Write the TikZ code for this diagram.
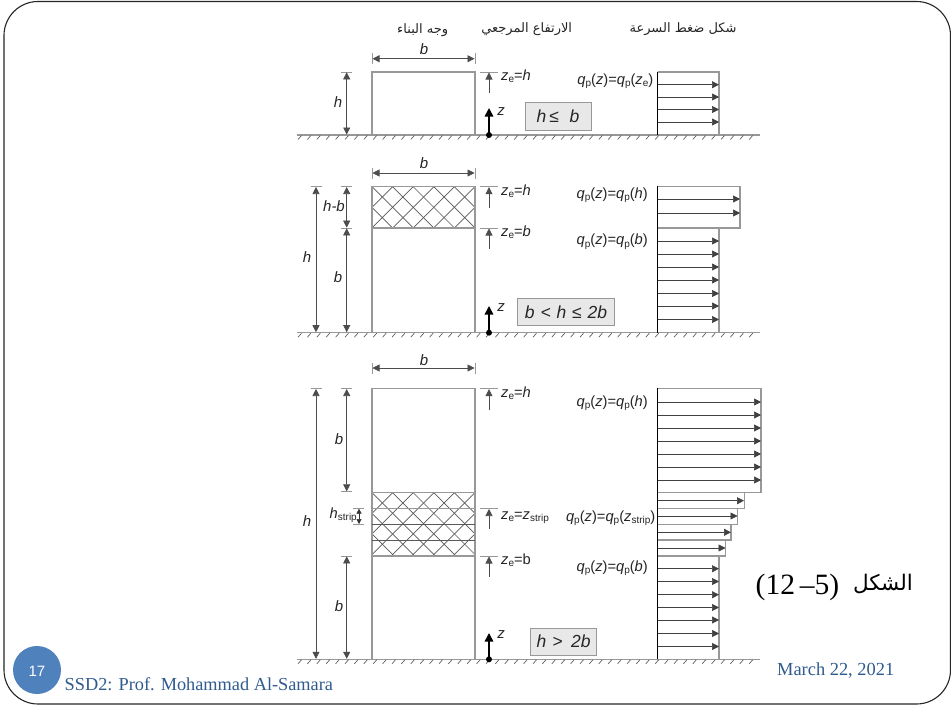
\documentclass[tikz,border=0pt]{standalone}
\usepackage{fontspec}
\usetikzlibrary{arrows.meta}
\setmainfont{Liberation Sans}
\newfontfamily\seriffont{Liberation Serif}
\newfontfamily\arabicfont[Script=Arabic]{DejaVu Sans}
\TeXXeTstate=1
\definecolor{wall}{HTML}{989898}
\definecolor{footblue}{HTML}{2F5B8F}
\newcommand{\low}[1]{\raisebox{-0.3ex}{\fontsize{10}{11}\selectfont #1}}
\newcommand{\ital}[1]{\textit{#1}}
\newcommand{\zeq}[1]{\ital{z}\low{e}=#1}
\newcommand{\qq}[1]{\ital{q}\low{p}(\ital{z})=\ital{q}\low{p}(#1)}
\tikzset{
  x=1pt,y=-1pt,
  wallline/.style={draw=wall,line width=1.1pt},
  dim/.style={draw=black!70,line width=0.6pt,{Triangle[length=7pt,width=7pt]}-{Triangle[length=7pt,width=7pt]}},
  tick/.style={draw=wall,line width=1pt},
  up/.style={draw=black!70,line width=0.6pt,-{Triangle[length=7pt,width=7pt]}},
  force/.style={draw=black!75,line width=0.65pt,-{Triangle[length=7pt,width=7pt]}},
  axis/.style={draw=black,line width=1.4pt},
  zarrow/.style={draw=black,line width=1.6pt,-{Triangle[length=8.5pt,width=8.5pt]}},
  lab/.style={font=\fontsize{14.7}{17}\selectfont,inner sep=0pt,text=black!85},
  ilab/.style={font=\fontsize{15}{17}\selectfont\itshape,inner sep=0pt,text=black!85},
  casebox/.style={draw=wall,fill=black!9,line width=1pt,inner sep=0pt,font=\fontsize{17.5}{20}\selectfont\itshape,text=black!85},
  head/.style={font=\fontsize{13}{15}\selectfont\arabicfont,inner sep=0pt,text=black!85},
  hatchline/.style={draw=black!65,line width=0.7pt},
}
% ground line at y #1
\newcommand{\ground}[1]{%
  \draw[draw=wall,line width=1.2pt] (297,#1) -- (760,#1);
  \foreach \gx in {298,307.4,...,758}{\draw[draw=black!65,line width=0.65pt] (\gx,#1+4.5) -- (\gx+3.5,#1+0.5);}
}
% elevated reference arrow: tick y, arrow tail y
\newcommand{\zemark}[2]{%
  \draw[tick] (480,#1) -- (498,#1);
  \draw[up] (489,#2) -- (489,#1+0.5);
}
% z arrow from ground
\newcommand{\zup}[3]{%
  \draw[zarrow] (489,#1) -- (489,#2);
  \fill[black] (489,#1) circle (3);
  \node[ilab] at (501,#3) {z};
}
% crosshatch between y #1 and y #2
\newcommand{\xhatch}[2]{%
  \begin{scope}
    \clip (372,#1) rectangle (475,#2);
    \foreach \k in {-4,...,9}{
      \draw[hatchline] ({372+20.6*\k},#1) -- ({372+20.6*\k+(#2-#1)},#2);
      \draw[hatchline] ({372+20.6*\k},#1) -- ({372+20.6*\k-(#2-#1)},#2);
    }
  \end{scope}
}
% width dimension
\newcommand{\bdim}[2]{%
  \draw[tick] (372,#1-5.5) -- (372,#1+5.5);
  \draw[tick] (475,#1-5.5) -- (475,#1+5.5);
  \draw[dim] (372.5,#1) -- (474.5,#1);
  \node[ilab] at (424,#2) {b};
}
% vertical dimension at x #1 from #2 to #3
\newcommand{\vdim}[3]{%
  \draw[dim] (#1,#2) -- (#1,#3);
}
\newcommand{\vtick}[2]{\draw[tick] (#1-5.5,#2) -- (#1+5.5,#2);}
\newcommand{\forces}[2]{\foreach \fy in {#2}{\draw[force] (657.7,\fy) -- (#1,\fy);}}
\begin{document}
\begin{tikzpicture}
\useasboundingbox (0,0) rectangle (951,710);
\fill[white] (0,0) rectangle (951,710);
% slide frame
\draw[black!85,line width=1.1pt,rounded corners=34pt] (4,1.5) rectangle (950.5,704);

% headers
\node[head] (h1) at (422.7,30) {\beginR وجه البناء\endR};
\node[head] (h2) at (526.7,29.5) {\beginR الارتفاع المرجعي\endR};
\node[head] (h3) at (683,29.5) {\beginR شكل ضغط السرعة\endR};

%=== panel 1
\ground{135}
\draw[wallline] (372,135) -- (372,72) -- (475,72) -- (475,135);
\bdim{58.7}{49}
\vtick{346.7}{72}
\vdim{346.7}{72.3}{134.5}
\node[ilab] (p1h) at (338,102) {h};
\zemark{72}{93}
\node[lab,anchor=west] (p1ze) at (501,76) {\zeq{\ital{h}}};
\zup{135}{108}{112}
\node[casebox,minimum width=66pt,minimum height=27.5pt] (p1case) at (558,116.4) {h\,≤\,\, b};
\node[lab,anchor=east] (p1q) at (653.5,81) {\qq{\ital{z}\low{e}}};
\draw[wallline] (657.7,72) -- (719,72) -- (719,135);
\forces{719}{84.7,97,109.5,122}
\draw[axis] (657.7,71.5) -- (657.7,135);

%=== panel 2
\ground{332.7}
\xhatch{186.7}{228}
\draw[wallline] (372,332.7) -- (372,186.7) -- (475,186.7) -- (475,332.7);
\draw[wallline] (372,228) -- (475,228);
\bdim{173}{163}
\vtick{316}{186.7}
\vdim{316}{187}{332.2}
\vtick{346.7}{186.7}
\vtick{346.7}{228}
\vdim{346.7}{187}{227.6}
\vdim{346.7}{228.4}{332.2}
\node[ilab] (p2h) at (307,257) {h};
\node[ilab] (p2hb) at (334,206) {h-b};
\node[ilab] (p2b) at (338,277) {b};
\zemark{186.7}{208}
\zemark{228}{249}
\node[lab,anchor=west] (p2ze1) at (501,191) {\zeq{\ital{h}}};
\node[lab,anchor=west] (p2ze2) at (501,232) {\zeq{\ital{b}}};
\zup{332.7}{306}{308}
\node[casebox,minimum width=96.5pt,minimum height=27.7pt] (p2case) at (566,312) {b\,\,<\,\,h\,\,≤\,\,2b};
\node[lab,anchor=east] (p2q1) at (648,195) {\qq{\ital{h}}};
\node[lab,anchor=east] (p2q2) at (648,241.7) {\qq{\ital{b}}};
\draw[wallline] (657.7,186.7) -- (740,186.7) -- (740,228) -- (719,228) -- (719,332.7);
\draw[wallline] (657.7,228) -- (719,228);
\forces{740}{199,213}
\forces{719}{241,254,267,280,293.5,306,319.5}
\draw[axis] (657.7,186.2) -- (657.7,332.7);

%=== panel 3
\ground{659.3}
\xhatch{492.7}{556}
\draw[wallline] (372,659.3) -- (372,388.7) -- (475,388.7) -- (475,659.3);
\draw[wallline] (372,492.7) -- (475,492.7);
\draw[wallline] (372,508.5) -- (475,508.5);
\draw[hatchline] (372,524.3) -- (475,524.3);
\draw[hatchline] (372,540) -- (475,540);
\draw[wallline] (372,556) -- (475,556);
\bdim{368}{360}
\vtick{316}{388.7}
\vdim{316}{389}{658.8}
\vtick{346.7}{388.7}
\vtick{346.7}{491.7}
\vdim{346.7}{389}{491.3}
\vtick{346.7}{556}
\vdim{346.7}{556.4}{658.8}
\node[ilab] (p3h) at (307,521) {h};
\node[ilab] (p3b1) at (339,439) {b};
\node[ilab] (p3b2) at (339,606) {b};
\draw[tick] (353,508.3) -- (364,508.3);
\draw[tick] (353,524.3) -- (364,524.3);
\draw[draw=black!80,line width=0.6pt,{Triangle[length=5pt,width=5pt]}-{Triangle[length=5pt,width=5pt]}] (359,508.6) -- (359,524);
\node[lab,anchor=east] (p3hs) at (357,515) {\ital{h}\low{strip}};
\zemark{388.7}{410}
\zemark{508.5}{529}
\zemark{556}{576.7}
\node[lab,anchor=west] (p3ze1) at (501,393) {\zeq{\ital{h}}};
\node[lab,anchor=west] (p3ze2) at (501,517.5) {\zeq{\ital{z}\low{strip}}};
\node[lab,anchor=west] (p3ze3) at (501,560) {\zeq{b}};
\zup{659.3}{633}{635}
\node[casebox,minimum width=66pt,minimum height=27pt] (p3case) at (563.7,641.5) {h\,\,>\,\,\,2b};
\node[lab,anchor=east] (p3q1) at (648,403) {\qq{\ital{h}}};
\node[lab,anchor=east] (p3q2) at (655.5,518) {\qq{\ital{z}\low{strip}}};
\node[lab,anchor=east] (p3q3) at (648,568) {\qq{\ital{b}}};
\draw[wallline] (657.7,388.7) -- (761,388.7) -- (761,492.7) -- (744.3,492.7) -- (744.3,508.5) -- (737.7,508.5) -- (737.7,524.3) -- (731,524.3) -- (731,540) -- (725.7,540) -- (725.7,556) -- (719,556) -- (719,659.3);
\draw[wallline] (657.7,492.7) -- (744.3,492.7);
\draw[wallline] (657.7,508.5) -- (737.7,508.5);
\draw[wallline] (657.7,524.3) -- (731,524.3);
\draw[wallline] (657.7,540) -- (725.7,540);
\draw[wallline] (657.7,556) -- (719,556);
\forces{761}{402,415,428,441,454,467,480}
\draw[force] (657.7,500.7) -- (744,500.7);
\draw[force] (657.7,516) -- (737.5,516);
\draw[force] (657.7,532.3) -- (731,532.3);
\draw[force] (657.7,548) -- (725.5,548);
\forces{719}{568.7,581.5,594.7,607.5,620,633.5,646.5}
\draw[axis] (657.7,388.2) -- (657.7,659.3);

% figure caption
\node[inner sep=0pt,font=\fontsize{29.5}{32}\selectfont\seriffont] (capn) at (797.5,587) {(12\,–5)};
\node[inner sep=0pt,font=\fontsize{21.5}{24}\selectfont\arabicfont] (capa) at (883,584) {\beginR الشكل\endR};

% footer
\fill[fill={rgb,255:red,79;green,129;blue,189}] (37,670) circle (24);
\node[inner sep=0pt,text=white,font=\fontsize{15}{17}\selectfont] (num) at (37,671) {17};
\node[anchor=west,inner sep=0pt,text=footblue,font=\fontsize{18.3}{20}\selectfont\seriffont] (foot) at (64.5,684.5) {SSD2: Prof. Mohammad Al-Samara};
\node[anchor=west,inner sep=0pt,text=footblue,font=\fontsize{18.4}{20}\selectfont\seriffont] (date) at (777,670.5) {March 22, 2021};
\end{tikzpicture}
\end{document}
